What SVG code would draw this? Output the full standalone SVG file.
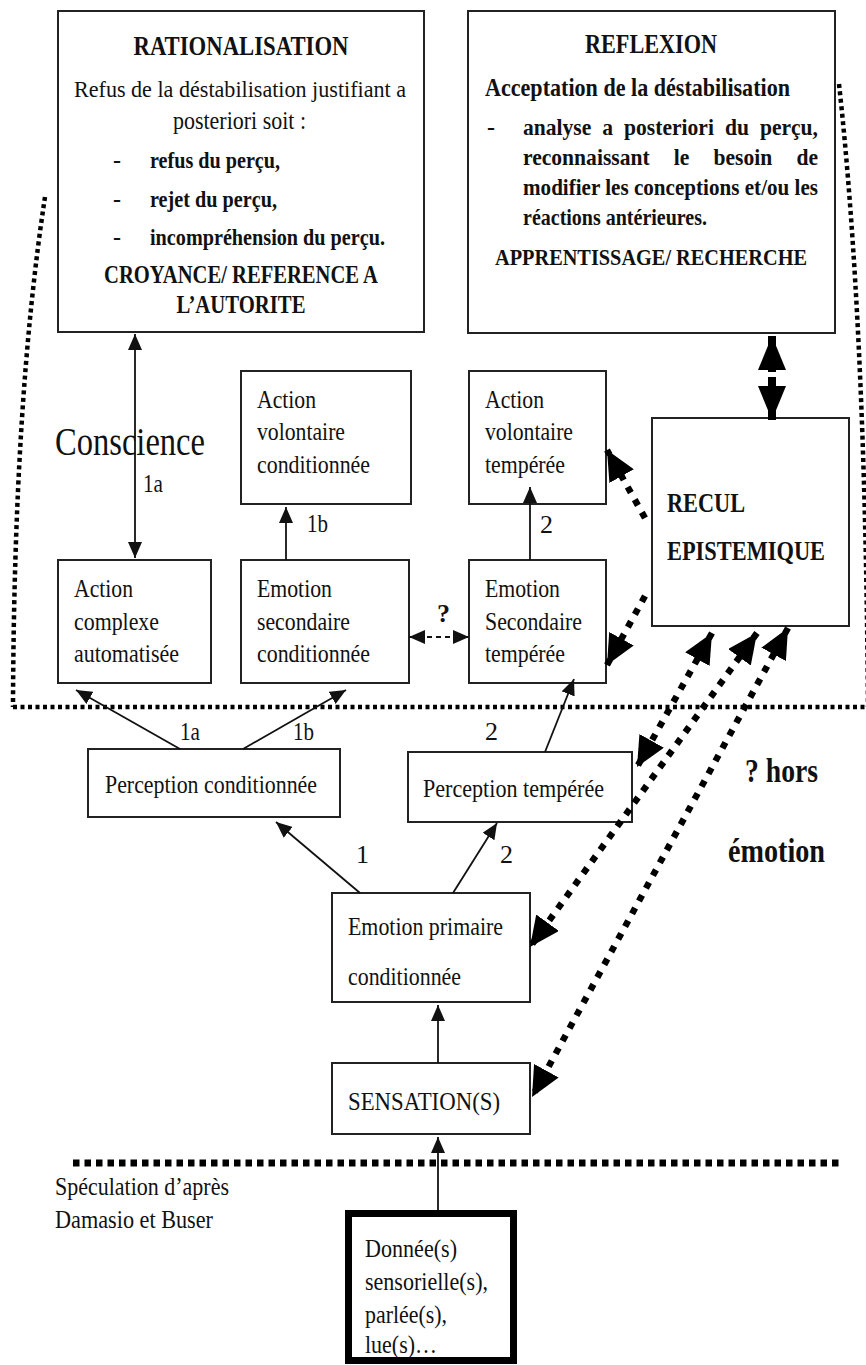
<svg xmlns="http://www.w3.org/2000/svg" width="866" height="1365" viewBox="0 0 866 1365">
<style>
.box{fill:#fff;stroke:#222;stroke-width:2}
.thick{fill:#fff;stroke:#000;stroke-width:7}
.t{font-family:"Liberation Serif","Times New Roman",serif;fill:#111}
.b{font-weight:bold}
.f23{font-size:23px}.f235{font-size:23.5px}.f24{font-size:24px}.f25{font-size:25px}.f26{font-size:26px}.f27{font-size:27px}.f33{font-size:33px}.f40{font-size:40px}
.conn{stroke:#111;stroke-width:1.8;fill:none}
.dash{stroke-dasharray:5 4}
.dot{stroke:#000;stroke-width:6.5;stroke-dasharray:6.5 8;fill:none}
.border{stroke:#000;stroke-width:4.5;stroke-dasharray:4 3.5;fill:none}
.border2{stroke:#000;stroke-width:7;stroke-dasharray:6.5 5;fill:none}
</style>
<defs>
<marker id="ah" markerUnits="userSpaceOnUse" viewBox="0 0 16 14" markerWidth="16" markerHeight="14" refX="16" refY="7" orient="auto-start-reverse"><path d="M0,0 L16,7 L0,14 Z" fill="#111"/></marker>
<marker id="dh" markerUnits="userSpaceOnUse" viewBox="0 0 30 28" markerWidth="30" markerHeight="28" refX="30" refY="14" orient="auto-start-reverse"><path d="M0,0 L30,14 L0,28 Z" fill="#000"/></marker>
<marker id="bh" markerUnits="userSpaceOnUse" viewBox="0 0 34 28" markerWidth="34" markerHeight="28" refX="34" refY="14" orient="auto-start-reverse"><path d="M0,0 L34,14 L0,28 Z" fill="#000"/></marker>
</defs>

<g id="boundaries">
<path class="border" d="M45,197 Q14,400 13,707"/>
<line class="border" x1="13" y1="707" x2="866" y2="707"/>
<path class="border" d="M839,84 Q865,320 868,707"/>
<line class="border2" x1="73" y1="1163" x2="843" y2="1163"/>
</g>

<g id="rationalisation">
<rect class="box" x="58" y="11" width="366" height="321"/>
<text class="t b f27" x="241" y="55" text-anchor="middle" textLength="215" lengthAdjust="spacingAndGlyphs">RATIONALISATION</text>
<text class="t f24" x="240" y="97" text-anchor="middle" textLength="332" lengthAdjust="spacingAndGlyphs">Refus de la déstabilisation justifiant a</text>
<text class="t f26" x="173" y="129" textLength="133" lengthAdjust="spacingAndGlyphs">posteriori soit :</text>
<text class="t b f24" x="113" y="168">-</text>
<text class="t b f235" x="150" y="168" textLength="130" lengthAdjust="spacingAndGlyphs">refus du perçu,</text>
<text class="t b f24" x="113" y="207">-</text>
<text class="t b f235" x="150" y="207" textLength="127" lengthAdjust="spacingAndGlyphs">rejet du perçu,</text>
<text class="t b f24" x="113" y="245">-</text>
<text class="t b f235" x="150" y="245" textLength="235" lengthAdjust="spacingAndGlyphs">incompréhension du perçu.</text>
<text class="t b f25" x="241" y="283" text-anchor="middle" textLength="274" lengthAdjust="spacingAndGlyphs">CROYANCE/ REFERENCE A</text>
<text class="t b f25" x="241" y="313" text-anchor="middle" textLength="129" lengthAdjust="spacingAndGlyphs">L’AUTORITE</text>
</g>

<g id="reflexion">
<rect class="box" x="468" y="11" width="367" height="322"/>
<text class="t b f27" x="651" y="53" text-anchor="middle" textLength="132" lengthAdjust="spacingAndGlyphs">REFLEXION</text>
<text class="t b f26" x="485" y="96" textLength="305" lengthAdjust="spacingAndGlyphs">Acceptation de la déstabilisation</text>
<text class="t b f24" x="487" y="135">-</text>
<text class="t b f23" x="670.5" y="135" text-anchor="middle" word-spacing="6" textLength="295" lengthAdjust="spacingAndGlyphs">analyse a posteriori du perçu,</text>
<text class="t b f23" x="670.5" y="165" text-anchor="middle" word-spacing="20" textLength="295" lengthAdjust="spacingAndGlyphs">reconnaissant le besoin de</text>
<text class="t b f23" x="670.5" y="195" text-anchor="middle" textLength="295" lengthAdjust="spacingAndGlyphs">modifier les conceptions et/ou les</text>
<text class="t b f24" x="523" y="225" textLength="184" lengthAdjust="spacingAndGlyphs">réactions antérieures.</text>
<text class="t b f235" x="651" y="265" text-anchor="middle" textLength="312" lengthAdjust="spacingAndGlyphs">APPRENTISSAGE/ RECHERCHE</text>
</g>

<g id="conscience-label">
<text class="t f40" x="55" y="455" textLength="150" lengthAdjust="spacingAndGlyphs">Conscience</text>
</g>

<g id="action-volontaire-conditionnee">
<rect class="box" x="241" y="371" width="170" height="133"/>
<text class="t f26" x="257" y="408" textLength="59" lengthAdjust="spacingAndGlyphs">Action</text>
<text class="t f26" x="257" y="440" textLength="88" lengthAdjust="spacingAndGlyphs">volontaire</text>
<text class="t f26" x="257" y="473" textLength="113" lengthAdjust="spacingAndGlyphs">conditionnée</text>
</g>

<g id="action-volontaire-temperee">
<rect class="box" x="469" y="371" width="137" height="133"/>
<text class="t f26" x="485" y="408" textLength="59" lengthAdjust="spacingAndGlyphs">Action</text>
<text class="t f26" x="485" y="440" textLength="88" lengthAdjust="spacingAndGlyphs">volontaire</text>
<text class="t f26" x="485" y="473" textLength="80" lengthAdjust="spacingAndGlyphs">tempérée</text>
</g>

<g id="recul-epistemique">
<rect class="box" x="652" y="418" width="197" height="208"/>
<text class="t b f27" x="667" y="512" textLength="78" lengthAdjust="spacingAndGlyphs">RECUL</text>
<text class="t b f27" x="667" y="560" textLength="158" lengthAdjust="spacingAndGlyphs">EPISTEMIQUE</text>
</g>

<g id="action-complexe-automatisee">
<rect class="box" x="58" y="560" width="153" height="123"/>
<text class="t f26" x="74" y="597" textLength="59" lengthAdjust="spacingAndGlyphs">Action</text>
<text class="t f26" x="74" y="630" textLength="85" lengthAdjust="spacingAndGlyphs">complexe</text>
<text class="t f26" x="74" y="662" textLength="105" lengthAdjust="spacingAndGlyphs">automatisée</text>
</g>

<g id="emotion-secondaire-conditionnee">
<rect class="box" x="241" y="560" width="168" height="123"/>
<text class="t f26" x="257" y="597" textLength="75" lengthAdjust="spacingAndGlyphs">Emotion</text>
<text class="t f26" x="257" y="630" textLength="93" lengthAdjust="spacingAndGlyphs">secondaire</text>
<text class="t f26" x="257" y="662" textLength="113" lengthAdjust="spacingAndGlyphs">conditionnée</text>
</g>

<g id="emotion-secondaire-temperee">
<rect class="box" x="469" y="560" width="137" height="123"/>
<text class="t f26" x="485" y="597" textLength="75" lengthAdjust="spacingAndGlyphs">Emotion</text>
<text class="t f26" x="485" y="630" textLength="97" lengthAdjust="spacingAndGlyphs">Secondaire</text>
<text class="t f26" x="485" y="662" textLength="80" lengthAdjust="spacingAndGlyphs">tempérée</text>
</g>

<g id="perception-conditionnee">
<rect class="box" x="88" y="749" width="252" height="68"/>
<text class="t f26" x="105" y="793" textLength="212" lengthAdjust="spacingAndGlyphs">Perception conditionnée</text>
</g>

<g id="perception-temperee">
<rect class="box" x="408" y="752" width="224" height="70"/>
<text class="t f26" x="423" y="797" textLength="181" lengthAdjust="spacingAndGlyphs">Perception tempérée</text>
</g>

<g id="hors-emotion">
<text class="t b f33" x="745" y="782" textLength="73" lengthAdjust="spacingAndGlyphs">? hors</text>
<text class="t b f33" x="728" y="862" textLength="97" lengthAdjust="spacingAndGlyphs">émotion</text>
</g>

<g id="emotion-primaire-conditionnee">
<rect class="box" x="332" y="893" width="198" height="109"/>
<text class="t f26" x="348" y="935" textLength="155" lengthAdjust="spacingAndGlyphs">Emotion primaire</text>
<text class="t f26" x="348" y="985" textLength="113" lengthAdjust="spacingAndGlyphs">conditionnée</text>
</g>

<g id="sensations">
<rect class="box" x="332" y="1063" width="198" height="71"/>
<text class="t f26" x="348" y="1110" textLength="152" lengthAdjust="spacingAndGlyphs">SENSATION(S)</text>
</g>

<g id="speculation-note">
<text class="t f26" x="55" y="1195" textLength="174" lengthAdjust="spacingAndGlyphs">Spéculation d’après</text>
<text class="t f26" x="55" y="1228" textLength="158" lengthAdjust="spacingAndGlyphs">Damasio et Buser</text>
</g>

<g id="donnees">
<rect class="thick" x="348.5" y="1213.5" width="165" height="147"/>
<text class="t f26" x="365" y="1257" textLength="92" lengthAdjust="spacingAndGlyphs">Donnée(s)</text>
<text class="t f26" x="365" y="1290" textLength="123" lengthAdjust="spacingAndGlyphs">sensorielle(s),</text>
<text class="t f26" x="365" y="1323" textLength="82" lengthAdjust="spacingAndGlyphs">parlée(s),</text>
<text class="t f26" x="365" y="1353" textLength="72" lengthAdjust="spacingAndGlyphs">lue(s)…</text>
</g>

<g id="connectors">
<line class="conn" x1="135" y1="334" x2="135" y2="558" marker-start="url(#ah)" marker-end="url(#ah)"/>
<line class="conn" x1="286" y1="560" x2="286" y2="507" marker-end="url(#ah)"/>
<line class="conn" x1="530" y1="560" x2="530" y2="487" marker-end="url(#ah)"/>
<line class="conn dash" x1="409" y1="637" x2="469" y2="637" marker-start="url(#ah)" marker-end="url(#ah)"/>
<line class="conn" x1="180" y1="749" x2="76" y2="690" marker-end="url(#ah)"/>
<line class="conn" x1="243" y1="749" x2="346" y2="690" marker-end="url(#ah)"/>
<line class="conn" x1="545" y1="752" x2="574" y2="679" marker-end="url(#ah)"/>
<line class="conn" x1="360" y1="893" x2="276" y2="822" marker-end="url(#ah)"/>
<line class="conn" x1="453" y1="893" x2="497" y2="823" marker-end="url(#ah)"/>
<line class="conn" x1="438" y1="1063" x2="438" y2="1005" marker-end="url(#ah)"/>
<line class="conn" x1="438" y1="1210" x2="438" y2="1137" marker-end="url(#ah)"/>
<line x1="772" y1="336" x2="772" y2="420" stroke="#000" stroke-width="8" stroke-dasharray="36 5 50" marker-start="url(#bh)" marker-end="url(#bh)"/>
<line class="dot" x1="645" y1="518" x2="607" y2="450" marker-end="url(#dh)"/>
<line class="dot" x1="645" y1="596" x2="607" y2="665" marker-end="url(#dh)"/>
<line class="dot" x1="712" y1="633" x2="637" y2="767" marker-start="url(#dh)" marker-end="url(#dh)"/>
<line class="dot" x1="757" y1="633" x2="530" y2="947" marker-start="url(#dh)" marker-end="url(#dh)"/>
<line class="dot" x1="788" y1="628" x2="532" y2="1097" marker-start="url(#dh)" marker-end="url(#dh)"/>
<text class="t f26" x="143" y="492" textLength="20" lengthAdjust="spacingAndGlyphs">1a</text>
<text class="t f26" x="307" y="532" textLength="21" lengthAdjust="spacingAndGlyphs">1b</text>
<text class="t f26" x="540" y="533">2</text>
<text class="t b f26" x="437" y="622">?</text>
<text class="t f26" x="180" y="740" textLength="20" lengthAdjust="spacingAndGlyphs">1a</text>
<text class="t f26" x="293" y="740" textLength="21" lengthAdjust="spacingAndGlyphs">1b</text>
<text class="t f26" x="485" y="740">2</text>
<text class="t f26" x="356" y="863">1</text>
<text class="t f26" x="500" y="863">2</text>
</g>
</svg>
